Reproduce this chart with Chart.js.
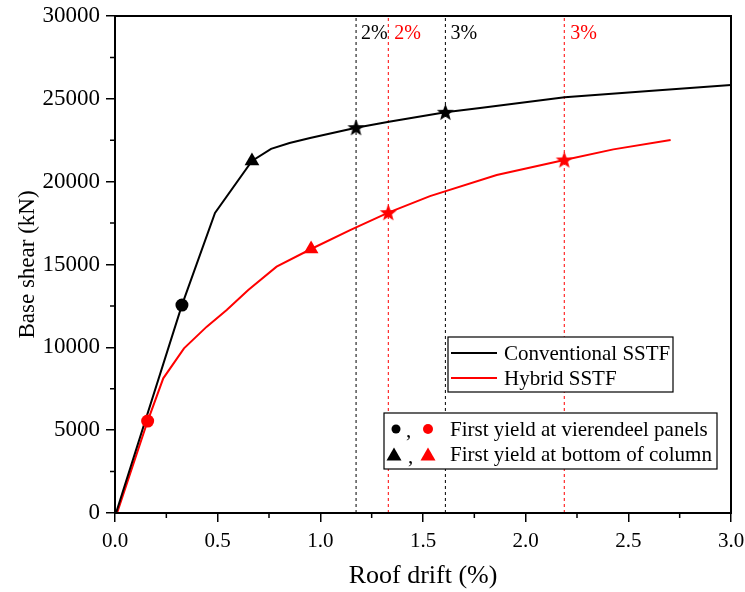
<!DOCTYPE html>
<html>
<head>
<meta charset="utf-8">
<script src="https://cdn.jsdelivr.net/npm/chart.js@4.4.0/dist/chart.umd.min.js"></script>
<style>
  html, body { margin: 0; padding: 0; background: #fff; }
</style>
</head>
<body>
<canvas id="pushover" width="745" height="592"></canvas>
<script>
// pushover curves: roof drift (%) vs base shear (kN)
const convDrift = [0.005, 0.326, 0.487, 0.667, 0.76, 0.85, 0.95, 1.174, 1.334, 1.609, 1.778, 2.19, 2.6, 3.0];
const convShear = [0, 12550, 18110, 21250, 21980, 22330, 22630, 23260, 23620, 24190, 24440, 25090, 25480, 25830];
const hybDrift = [0.01, 0.159, 0.235, 0.336, 0.447, 0.544, 0.649, 0.787, 0.955, 1.145, 1.331, 1.534, 1.859, 2.188, 2.427, 2.706];
const hybShear = [0, 5550, 8130, 9940, 11250, 12250, 13460, 14870, 15935, 17080, 18130, 19130, 20400, 21310, 21950, 22510];

// points that carry a marker (index into the curves above)
const convMarkIdx = [1, 3, 7, 9];
const hybMarkIdx = [1, 8, 10, 13];
const markStyles = ['circle', 'triangle', 'star', 'star'];

// 2% / 3% interstory drift limits on the roof drift axis
const convLimits = [1.174, 1.609];
const hybLimits = [1.331, 2.188];
const limitLabels = ['2%', '3%'];

const seriesNames = ['Conventional SSTF', 'Hybrid SSTF'];
const markerNotes = ['First yield at vierendeel panels', 'First yield at bottom of column'];

const xTicks = [0, 0.5, 1.0, 1.5, 2.0, 2.5, 3.0];
const yTicks = [0, 5000, 10000, 15000, 20000, 25000, 30000];

const FONT = '"Liberation Serif", "Times New Roman", serif';
const RED = '#ff0000';

function starImage(color) {
  const c = document.createElement('canvas');
  c.width = 19; c.height = 19;
  const g = c.getContext('2d');
  g.fillStyle = color;
  g.beginPath();
  for (let i = 0; i < 10; i++) {
    const r = i % 2 ? 3.8 : 9;
    const a = -Math.PI / 2 + i * Math.PI / 5;
    g.lineTo(9.5 + r * Math.cos(a), 10 + r * Math.sin(a));
  }
  g.closePath();
  g.fill();
  return c;
}
const starBlack = starImage('#000');
const starRed = starImage(RED);

const toXY = (xs, ys) => xs.map((x, i) => ({ x, y: ys[i] }));
const pick = (xs, ys, idx) => idx.map(i => ({ x: xs[i], y: ys[i] }));
const vline = x => [{ x, y: yTicks[0] }, { x, y: yTicks[yTicks.length - 1] }];

function curve(label, data, color) {
  return { label, data, borderColor: color, borderWidth: 2, pointRadius: 0, tension: 0, order: 1 };
}
function markers(data, color, star) {
  return {
    data, showLine: false, order: 0,
    pointStyle: markStyles.map(s => s === 'star' ? star : s),
    pointRadius: [6.5, 8.5, 9, 9],
    backgroundColor: color, borderColor: color, borderWidth: 0
  };
}
function limit(x, color) {
  return { data: vline(x), borderColor: color, borderWidth: 1, borderDash: [3, 3], pointRadius: 0, order: 2 };
}

const datasets = [
  curve(seriesNames[0], toXY(convDrift, convShear), '#000'),
  curve(seriesNames[1], toXY(hybDrift, hybShear), RED),
  markers(pick(convDrift, convShear, convMarkIdx), '#000', starBlack),
  markers(pick(hybDrift, hybShear, hybMarkIdx), RED, starRed),
  ...convLimits.map(x => limit(x, '#000')),
  ...hybLimits.map(x => limit(x, RED))
];

// white background, frame, minor ticks, drift labels and the two legend boxes
const decor = {
  id: 'decor',
  beforeDraw(chart) {
    const ctx = chart.ctx;
    ctx.save();
    ctx.fillStyle = '#fff';
    ctx.fillRect(0, 0, chart.width, chart.height);
    ctx.restore();
  },
  afterDraw(chart) {
    const ctx = chart.ctx;
    const a = chart.chartArea;
    const xs = chart.scales.x, ys = chart.scales.y;
    ctx.save();

    // minor ticks
    ctx.strokeStyle = '#000';
    ctx.lineWidth = 1.5;
    ctx.beginPath();
    for (let i = 0; i < xTicks.length - 1; i++) {
      const px = xs.getPixelForValue((xTicks[i] + xTicks[i + 1]) / 2);
      ctx.moveTo(px, a.bottom); ctx.lineTo(px, a.bottom + 5);
    }
    for (let i = 0; i < yTicks.length - 1; i++) {
      const py = ys.getPixelForValue((yTicks[i] + yTicks[i + 1]) / 2);
      ctx.moveTo(a.left, py); ctx.lineTo(a.left - 5, py);
    }
    ctx.stroke();

    // frame
    ctx.lineWidth = 2;
    ctx.strokeRect(a.left, a.top, a.right - a.left, a.bottom - a.top);

    // drift limit labels
    ctx.font = '20px ' + FONT;
    ctx.textBaseline = 'middle';
    ctx.textAlign = 'left';
    convLimits.forEach((v, i) => {
      ctx.fillStyle = '#000';
      ctx.fillText(limitLabels[i], xs.getPixelForValue(v) + 5, a.top + 18);
    });
    hybLimits.forEach((v, i) => {
      ctx.fillStyle = RED;
      ctx.fillText(limitLabels[i], xs.getPixelForValue(v) + 6, a.top + 18);
    });

    ctx.font = '21px ' + FONT;

    // legend 1: line samples
    ctx.lineWidth = 1.2;
    ctx.fillStyle = '#fff';
    ctx.fillRect(448, 337, 225, 55);
    ctx.strokeStyle = '#000';
    ctx.strokeRect(448, 337, 225, 55);
    [['#000', 353], [RED, 378]].forEach(([c, y], i) => {
      ctx.strokeStyle = c;
      ctx.lineWidth = 2;
      ctx.beginPath(); ctx.moveTo(451, y); ctx.lineTo(497, y); ctx.stroke();
      ctx.fillStyle = '#000';
      ctx.fillText(seriesNames[i], 504, y + 1);
    });

    // legend 2: marker meanings
    ctx.lineWidth = 1.2;
    ctx.fillStyle = '#fff';
    ctx.fillRect(384, 413, 333, 56);
    ctx.strokeStyle = '#000';
    ctx.strokeRect(384, 413, 333, 56);

    ctx.fillStyle = '#000';
    ctx.beginPath(); ctx.arc(396, 429, 4.5, 0, Math.PI * 2); ctx.fill();
    ctx.fillStyle = RED;
    ctx.beginPath(); ctx.arc(428, 429, 5, 0, Math.PI * 2); ctx.fill();
    const tri = (cx, cy, c) => {
      ctx.fillStyle = c;
      ctx.beginPath();
      ctx.moveTo(cx, cy - 7.5); ctx.lineTo(cx + 7.5, cy + 5.5); ctx.lineTo(cx - 7.5, cy + 5.5);
      ctx.closePath(); ctx.fill();
    };
    tri(394, 455, '#000');
    tri(428, 455, RED);
    ctx.fillStyle = '#000';
    ctx.fillText(',', 406, 431);
    ctx.fillText(',', 408, 457);
    ctx.fillText(markerNotes[0], 450, 430);
    ctx.fillText(markerNotes[1], 450, 455);

    ctx.restore();
  }
};

new Chart(document.getElementById('pushover'), {
  type: 'line',
  data: { datasets },
  plugins: [decor],
  options: {
    responsive: false,
    animation: false,
    devicePixelRatio: 1,
    layout: { padding: { top: 16, right: 14, left: 0, bottom: 0 } },
    plugins: { legend: { display: false }, tooltip: { enabled: false } },
    scales: {
      x: {
        type: 'linear',
        min: xTicks[0], max: xTicks[xTicks.length - 1],
        afterFit: s => { s.height = 79; s.paddingLeft = 0; s.paddingRight = 0; },
        afterBuildTicks: s => { s.ticks = xTicks.map(v => ({ value: v })); },
        ticks: {
          color: '#000', padding: 7, maxRotation: 0, autoSkip: false,
          font: { family: FONT, size: 21 },
          callback: v => v.toFixed(1)
        },
        grid: { drawOnChartArea: false, color: '#000', tickLength: 9, lineWidth: 1.5 },
        border: { color: '#000', width: 2 },
        title: {
          display: true, text: 'Roof drift (%)', color: '#000',
          font: { family: FONT, size: 26 }, padding: { top: 0, bottom: 0 }
        }
      },
      y: {
        type: 'linear',
        min: yTicks[0], max: yTicks[yTicks.length - 1],
        afterFit: s => { s.width = 115; s.paddingTop = 0; s.paddingBottom = 0; },
        afterBuildTicks: s => { s.ticks = yTicks.map(v => ({ value: v })); },
        ticks: {
          color: '#000', padding: 6,
          font: { family: FONT, size: 23 },
          callback: v => String(v)
        },
        grid: { drawOnChartArea: false, color: '#000', tickLength: 9, lineWidth: 1.5 },
        border: { color: '#000', width: 2 },
        title: {
          display: true, text: 'Base shear (kN)', color: '#000',
          font: { family: FONT, size: 23 }, padding: { top: 14, bottom: 0 }
        }
      }
    }
  }
});
</script>
</body>
</html>
